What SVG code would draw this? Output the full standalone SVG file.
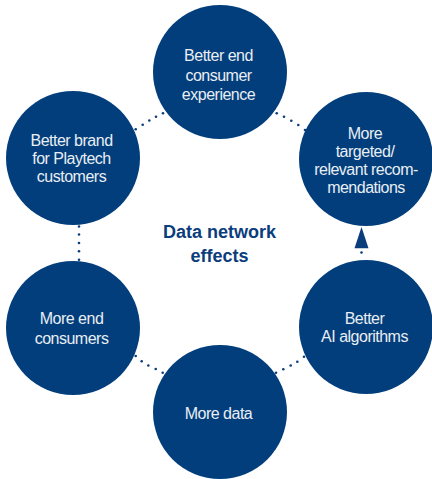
<svg xmlns="http://www.w3.org/2000/svg" width="432" height="479" viewBox="0 0 432 479">
<style>
.node{fill:#023e7b}
.lbl{font-family:"Liberation Sans",Arial,sans-serif;font-size:16px;letter-spacing:-0.5px;fill:#e9eef4;text-anchor:middle}
.title{font-family:"Liberation Sans",Arial,sans-serif;font-size:18px;font-weight:bold;fill:#0b3d7c;text-anchor:middle}
.dot{fill:#0b3d7c}
</style>
<rect width="432" height="479" fill="#ffffff"/>
<g id="connectors">
<circle class="dot" cx="135.7" cy="129.3" r="1.3"/>
<circle class="dot" cx="142.7" cy="124.8" r="1.3"/>
<circle class="dot" cx="149.3" cy="120.5" r="1.3"/>
<circle class="dot" cx="156" cy="116.8" r="1.3"/>
<circle class="dot" cx="163" cy="113.3" r="1.3"/>
<circle class="dot" cx="276.7" cy="113.3" r="1.3"/>
<circle class="dot" cx="284" cy="116.8" r="1.3"/>
<circle class="dot" cx="291.3" cy="120.7" r="1.3"/>
<circle class="dot" cx="298.3" cy="125" r="1.3"/>
<circle class="dot" cx="305" cy="130" r="1.3"/>
<circle class="dot" cx="79" cy="226.5" r="1.3"/>
<circle class="dot" cx="79" cy="234.5" r="1.3"/>
<circle class="dot" cx="79" cy="243" r="1.3"/>
<circle class="dot" cx="79" cy="251.3" r="1.3"/>
<circle class="dot" cx="79" cy="259.7" r="1.3"/>
<circle class="dot" cx="135.7" cy="356" r="1.3"/>
<circle class="dot" cx="141.7" cy="361.3" r="1.3"/>
<circle class="dot" cx="148.3" cy="365.5" r="1.3"/>
<circle class="dot" cx="155.7" cy="369" r="1.3"/>
<circle class="dot" cx="162.7" cy="372.7" r="1.3"/>
<circle class="dot" cx="276" cy="372.7" r="1.3"/>
<circle class="dot" cx="283.3" cy="369.3" r="1.3"/>
<circle class="dot" cx="290.7" cy="365.5" r="1.3"/>
<circle class="dot" cx="297.3" cy="361.7" r="1.3"/>
<circle class="dot" cx="304" cy="356.7" r="1.3"/>
<circle class="dot" cx="361.5" cy="252.5" r="1.3"/>
<polygon class="dot" points="354.5,248.3 368.5,248.3 361.5,227"/>
</g>
<g id="node-top">
<circle class="node" cx="220" cy="72" r="67"/>
<text class="lbl" x="218.5" y="61">Better end</text>
<text class="lbl" x="218.5" y="80.5">consumer</text>
<text class="lbl" x="218.5" y="99.5">experience</text>
</g>
<g id="node-right-top">
<circle class="node" cx="366" cy="159" r="67"/>
<text class="lbl" x="365" y="139">More</text>
<text class="lbl" x="365" y="157">targeted/</text>
<text class="lbl" x="366" y="175">relevant recom-</text>
<text class="lbl" x="366" y="193">mendations</text>
</g>
<g id="node-right-bottom">
<circle class="node" cx="366" cy="327" r="67"/>
<text class="lbl" x="364.5" y="323.5">Better</text>
<text class="lbl" x="364.5" y="342">AI algorithms</text>
</g>
<g id="node-bottom">
<circle class="node" cx="220" cy="412" r="67"/>
<text class="lbl" x="218.5" y="419">More data</text>
</g>
<g id="node-left-bottom">
<circle class="node" cx="73" cy="328" r="67"/>
<text class="lbl" x="71.5" y="324">More end</text>
<text class="lbl" x="71.5" y="343.5">consumers</text>
</g>
<g id="node-left-top">
<circle class="node" cx="73" cy="158" r="67"/>
<text class="lbl" x="71.5" y="146">Better brand</text>
<text class="lbl" x="71.5" y="164">for Playtech</text>
<text class="lbl" x="71.5" y="182">customers</text>
</g>
<g id="title">
<text class="title" x="219.5" y="237.7">Data network</text>
<text class="title" x="219.5" y="261.7">effects</text>
</g>
</svg>
